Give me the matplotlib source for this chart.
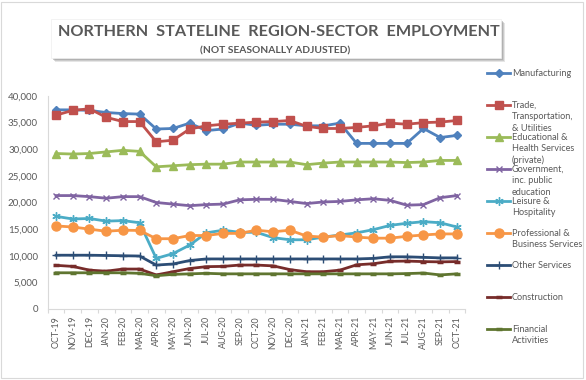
import numpy as np
import matplotlib
matplotlib.use("Agg")
import matplotlib.pyplot as plt
from matplotlib.lines import Line2D
from matplotlib.patches import Rectangle

plt.rcParams['font.family'] = ['Lato', 'DejaVu Sans']

months = ['OCT-19', 'NOV-19', 'DEC-19', 'JAN-20', 'FEB-20', 'MAR-20', 'APR-20', 'MAY-20', 'JUN-20',
          'JUL-20', 'AUG-20', 'SEP-20', 'OCT-20', 'NOV-20', 'DEC-20', 'JAN-21', 'FEB-21', 'MAR-21',
          'APR-21', 'MAY-21', 'JUN-21', 'JUL-21', 'AUG-21', 'SEP-21', 'OCT-21']

manufacturing = [37400, 37400, 37300, 36900, 36700, 36600, 33800, 33900, 34900, 33500, 33800, 34900, 34500,
                 34700, 34700, 34400, 34400, 34900, 31100, 31100, 31100, 31100, 33900, 32200, 32600]
trade = [36400, 37300, 37600, 36000, 35200, 35200, 31400, 31700, 33800, 34400, 34700, 34900, 35100,
         35200, 35400, 34300, 33900, 33900, 34100, 34400, 34900, 34700, 35000, 35100, 35400]
education = [29200, 29100, 29200, 29500, 29800, 29600, 26700, 26900, 27100, 27200, 27200, 27600, 27600,
             27600, 27600, 27100, 27400, 27600, 27600, 27600, 27600, 27500, 27600, 27900, 27900]
government = [21300, 21300, 21100, 20800, 21100, 21100, 20000, 19700, 19400, 19600, 19700, 20500, 20600,
              20600, 20200, 19800, 20100, 20200, 20500, 20700, 20400, 19500, 19600, 20900, 21300]
leisure = [17400, 16900, 17000, 16500, 16600, 16200, 9500, 10400, 12000, 14300, 14800, 14400, 14400,
           13400, 13000, 13000, 13500, 13900, 14300, 14900, 15700, 16100, 16400, 16200, 15400]
professional = [15600, 15400, 15000, 14600, 14800, 14750, 13200, 13200, 13800, 13800, 14200, 14200, 14800,
                14500, 14800, 13700, 13500, 13800, 13500, 13300, 13300, 13650, 13900, 14100, 14100]
other = [10100, 10100, 10100, 10050, 10000, 9950, 8250, 8450, 9100, 9400, 9400, 9400, 9400,
         9400, 9400, 9400, 9400, 9400, 9400, 9500, 9800, 9800, 9700, 9600, 9600]
construction = [8200, 8000, 7300, 7100, 7500, 7500, 6400, 7000, 7600, 7950, 8000, 8250, 8250,
                8100, 7400, 7000, 7000, 7300, 8300, 8500, 8950, 9000, 8900, 8850, 8900]
financial = [6800, 6800, 6800, 6800, 6800, 6700, 6250, 6500, 6600, 6700, 6600, 6600, 6600,
             6600, 6600, 6600, 6600, 6600, 6600, 6600, 6600, 6650, 6750, 6400, 6600]

labels = ['Manufacturing', 'Trade,\nTransportation,\n& Utilities', 'Educational &\nHealth Services\n(private)',
          'Government,\ninc. public\neducation', 'Leisure &\nHospitality', 'Professional &\nBusiness Services',
          'Other Services', 'Construction', 'Financial\nActivities']
series = [manufacturing, trade, education, government, leisure, professional, other, construction, financial]

# color, marker, markersize, markeredgewidth
styles = [
    ('#4F81BD', 'D', 4.2, 1),
    ('#C0504D', 's', 6.2, 1),
    ('#9BBB59', '^', 6.0, 1),
    ('#8064A2', 'x', 4.5, 1),
    ('#4BACC6', (6, 2, 0), 6.0, 1),
    ('#F79646', 'o', 6.5, 1),
    ('#2C4D75', '+', 6.0, 1),
    ('#772C2A', '_', 5.0, 2.5),
    ('#5F7530', '_', 5.0, 2.5),
]

W, H = 586, 380
txt = '#595959'
grid = '#d9d9d9'

fig = plt.figure(figsize=(W / 100, H / 100), dpi=100)
fig.patch.set_facecolor('white')

ax = fig.add_axes([47.7 / W, 71 / H, (465.2 - 47.7) / W, 213 / H])
x = np.arange(len(months))
for vals, (c, m, ms, mew) in zip(series, styles):
    ax.plot(x, vals, color=c, lw=2, marker=m, ms=ms, mew=mew, mec=c, mfc=c)

ax.set_xlim(-0.5, len(months) - 0.5)
ax.set_ylim(0, 40000)
ax.set_yticks(np.arange(0, 40001, 5000))
ax.set_yticklabels([f'{v:,}' for v in range(0, 40001, 5000)])
ax.set_xticks(x)
ax.set_xticklabels(months, rotation=90)
ax.set_xticks(np.arange(-0.5, len(months), 1), minor=True)
ax.tick_params(axis='y', length=0, pad=7, labelsize=7, labelcolor=txt)
ax.tick_params(axis='x', which='major', length=0, pad=5, labelsize=6.4, labelcolor=txt)
ax.tick_params(axis='x', which='minor', length=3, color=grid, width=0.8)
for s in ['top', 'right']:
    ax.spines[s].set_visible(False)
for s in ['left', 'bottom']:
    ax.spines[s].set_color(grid)
    ax.spines[s].set_linewidth(0.8)

# outer frame
fig.add_artist(Rectangle((0.5 / W, 2 / H), 582 / W, 376 / H, transform=fig.transFigure,
                         fill=False, ec=grid, lw=0.8))

# title box with shadow
for off, a in [(4, 0.25), (3, 0.35), (2, 0.5)]:
    fig.add_artist(Rectangle(((51 + off) / W, 1 - (58 + off) / H), 450 / W, 39 / H,
                             transform=fig.transFigure, fc='#9a9a9a', ec='none', alpha=a))
fig.add_artist(Rectangle((51 / W, 1 - 58 / H), 450 / W, 39 / H, transform=fig.transFigure,
                         fc='white', ec='#eeeeee', lw=0.5))
fig.text(279 / W, 1 - 32 / H, 'NORTHERN  STATELINE  REGION-SECTOR  EMPLOYMENT', ha='center', va='center',
         fontsize=11.7, fontweight='bold', color=txt)
fig.text(275 / W, 1 - 51 / H, '(NOT SEASONALLY ADJUSTED)', ha='center', va='center',
         fontsize=7.4, fontweight='bold', color=txt)

# legend
for k, (lab, (c, m, ms, mew)) in enumerate(zip(labels, styles)):
    yp = 73.3 + 32 * k
    fy = 1 - yp / H
    fig.add_artist(Line2D([487 / W, 498.5 / W, 510 / W], [fy, fy, fy], transform=fig.transFigure,
                          color=c, lw=2, marker=m, ms=ms, mew=mew, mec=c, mfc=c, markevery=[1]))
    for j, line in enumerate(lab.split('\n')):
        fig.text(512 / W, 1 - (yp + 11.4 * j) / H, line, ha='left', va='center',
                 fontsize=6.6, color=txt)

fig.savefig('out.png', dpi=100)
